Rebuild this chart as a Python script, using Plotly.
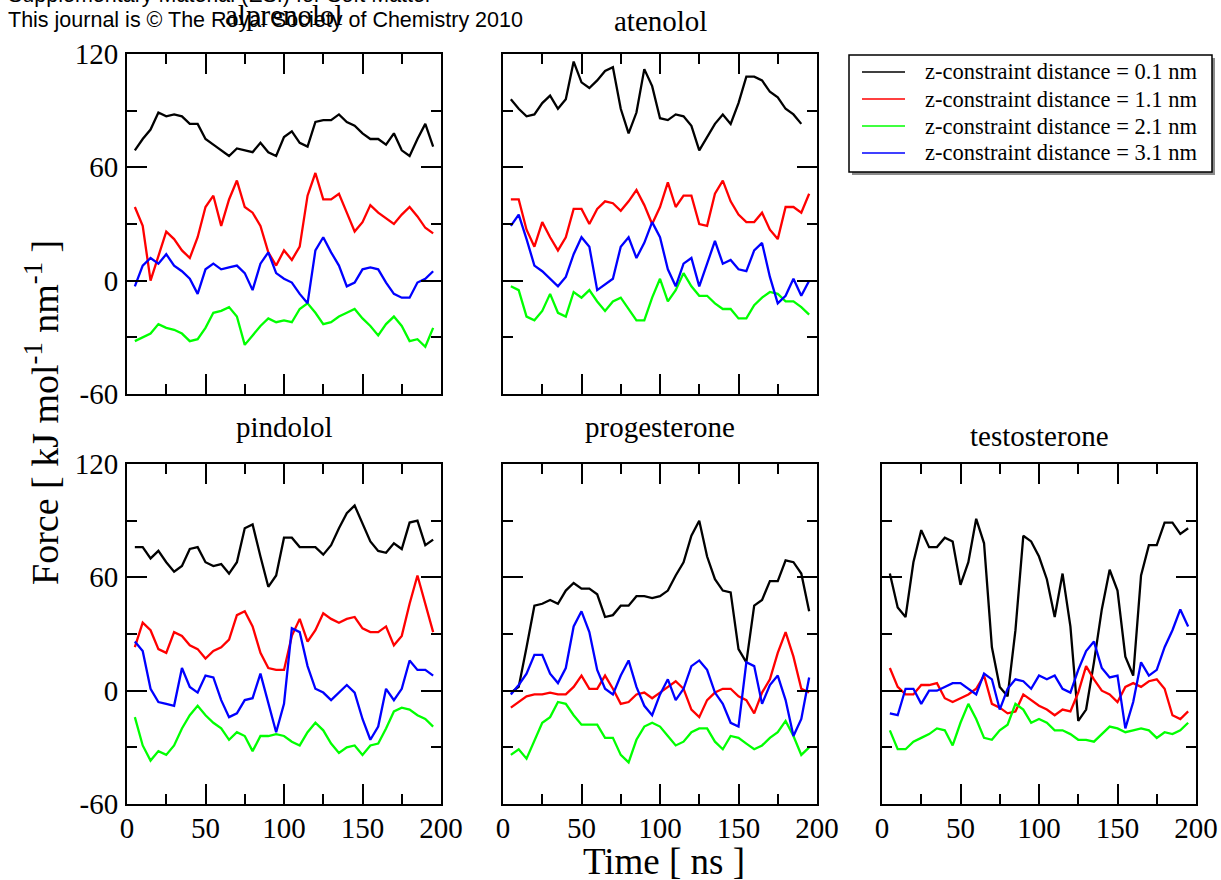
import plotly.graph_objects as go

# ---------------- data ----------------
time_ns = list(range(5, 200, 5))  # 5 .. 195 ns

series_names = [
    "z-constraint distance = 0.1 nm",
    "z-constraint distance = 1.1 nm",
    "z-constraint distance = 2.1 nm",
    "z-constraint distance = 3.1 nm",
]
series_colors = ["#000000", "#ff0000", "#00ff00", "#0000ff"]

panel_titles = ["alprenolol", "atenolol", "pindolol", "progesterone", "testosterone"]

x_tick_vals = [0, 50, 100, 150, 200]
x_tick_text = ["0", "50", "100", "150", "200"]
x_minor_vals = [25, 75, 125, 175]
y_tick_vals = [-60, 0, 60, 120]
y_tick_text = ["-60", "0", "60", "120"]
y_minor_vals = [-30, 30, 90]

alprenolol_d01 = [69, 75, 80, 89, 87, 88, 87, 83, 83, 75, 72, 69, 66, 70, 69, 68, 73, 68, 66, 76,
                  79, 73, 71, 84, 85, 85, 88, 84, 82, 78, 75, 75, 72, 78, 69, 66, 75, 83, 71]
alprenolol_d11 = [39, 29, 0, 13, 26, 22, 16, 12, 23, 39, 45, 29, 43, 53, 39, 36, 29, 15, 8, 16,
                  11, 18, 45, 57, 43, 43, 46, 36, 26, 31, 40, 36, 33, 30, 35, 39, 34, 28, 25]
alprenolol_d21 = [-32, -30, -28, -23, -25, -26, -28, -32, -31, -25, -17, -16, -14, -19, -34, -29, -24, -20, -22, -21,
                  -22, -15, -12, -17, -23, -22, -19, -17, -15, -20, -24, -29, -23, -19, -24, -32, -31, -35, -25]
alprenolol_d31 = [-3, 8, 12, 9, 14, 8, 5, 1, -7, 6, 9, 6, 7, 8, 4, -5, 9, 15, 4, 1,
                  -1, -7, -12, 16, 23, 15, 8, -3, -1, 6, 7, 6, -1, -7, -9, -9, -1, 1, 5]

atenolol_d01 = [96, 91, 87, 88, 94, 98, 91, 96, 116, 105, 102, 106, 111, 113, 91, 78, 89, 112, 103, 86,
                85, 88, 87, 82, 69, 76, 83, 88, 83, 94, 108, 108, 106, 100, 97, 91, 88, 83, None]
atenolol_d11 = [43, 43, 27, 18, 31, 23, 16, 23, 38, 38, 30, 38, 42, 41, 37, 42, 48, 40, 30, 39,
                52, 39, 45, 45, 30, 29, 46, 53, 42, 35, 31, 31, 36, 27, 22, 39, 39, 36, 46]
atenolol_d21 = [-3, -5, -19, -21, -16, -7, -17, -19, -6, -9, -5, -11, -16, -11, -9, -15, -21, -21, -9, 1,
                -11, -5, 4, -3, -8, -8, -12, -15, -15, -20, -20, -13, -9, -6, -7, -11, -11, -14, -18]
atenolol_d31 = [29, 35, 22, 8, 5, 1, -3, 2, 14, 23, 18, -5, -2, 1, 18, 23, 12, 20, 31, 23,
                6, -3, 9, 12, -3, 9, 21, 9, 11, 6, 5, 16, 20, 2, -12, -8, 1, -8, 0]

pindolol_d01 = [76, 76, 70, 74, 68, 63, 66, 75, 76, 68, 66, 67, 62, 68, 86, 88, 71, 55, 61, 81,
                81, 76, 76, 76, 72, 77, 86, 94, 98, 88, 79, 74, 73, 78, 75, 89, 90, 77, 80]
pindolol_d11 = [23, 36, 32, 22, 20, 31, 29, 24, 22, 17, 21, 23, 27, 40, 42, 34, 20, 12, 11, 11,
                29, 38, 26, 32, 41, 38, 36, 38, 39, 33, 31, 31, 34, 24, 29, 46, 61, 46, 31]
pindolol_d21 = [-14, -29, -37, -32, -34, -29, -20, -13, -8, -13, -17, -20, -26, -22, -24, -32, -24, -24, -23, -24,
                -27, -29, -22, -17, -21, -28, -33, -30, -29, -34, -29, -28, -20, -11, -9, -10, -13, -15, -19]
pindolol_d31 = [26, 21, 1, -6, -7, -8, 12, 2, -1, 8, 7, -5, -14, -12, -5, -4, 9, -7, -22, -7,
                33, 31, 13, 1, -1, -5, -1, 3, -1, -15, -26, -19, 1, -5, 1, 16, 11, 11, 8]

progesterone_d01 = [-1, 2, 23, 45, 46, 48, 46, 53, 57, 54, 54, 51, 39, 40, 45, 45, 50, 50, 49, 50,
                    53, 61, 68, 82, 90, 71, 59, 53, 52, 22, 15, 45, 48, 58, 58, 69, 68, 62, 42]
progesterone_d11 = [-9, -6, -3, -2, -2, -1, -2, -2, 2, 8, 1, 1, 8, 1, -7, -6, -2, -1, -4, -1,
                    2, 5, 1, -10, -14, -5, -1, 1, 1, -3, -5, -12, -1, 6, 20, 31, 18, 1, -1]
progesterone_d21 = [-34, -31, -36, -26, -17, -14, -6, -7, -13, -18, -18, -18, -25, -25, -34, -38, -26, -19, -17, -19,
                    -24, -29, -27, -22, -20, -20, -27, -31, -24, -25, -28, -31, -29, -25, -22, -16, -24, -34, -30]
progesterone_d31 = [-2, 3, 9, 19, 19, 9, 4, 12, 34, 42, 31, 11, 1, -2, 8, 16, 2, -8, -13, -2,
                    6, -5, 1, 13, 16, 11, -1, -7, -17, -19, 15, 13, -7, 3, 8, -5, -24, -15, 7]

testosterone_d01 = [62, 44, 39, 68, 85, 76, 76, 81, 79, 56, 68, 91, 78, 23, 2, -3, 32, 82, 79, 71,
                    59, 39, 62, 34, -16, -10, 15, 43, 64, 53, 18, 8, 61, 77, 77, 89, 89, 83, 86]
testosterone_d11 = [12, 2, -2, -2, 3, 3, 4, -4, -6, -4, -2, 1, 8, -7, -9, -12, -11, -2, -5, -8,
                    -10, -13, -10, -11, -1, 13, 6, 0, -2, -6, 2, 4, 2, 5, 6, 1, -13, -15, -11]
testosterone_d21 = [-21, -31, -31, -27, -25, -23, -20, -21, -29, -17, -7, -15, -25, -26, -21, -18, -7, -10, -17, -15,
                    -17, -21, -21, -23, -26, -26, -27, -23, -19, -20, -22, -21, -20, -21, -25, -22, -23, -21, -17]
testosterone_d31 = [-12, -13, 1, 1, -7, 0, 0, 2, 4, 4, 1, -2, 9, 6, -10, 1, 6, 5, 1, 8,
                    6, 8, 1, -1, 11, 21, 26, 12, 7, 8, -20, -6, 15, 8, 11, 23, 32, 43, 34]

panel_data = [
    [alprenolol_d01, alprenolol_d11, alprenolol_d21, alprenolol_d31],
    [atenolol_d01, atenolol_d11, atenolol_d21, atenolol_d31],
    [pindolol_d01, pindolol_d11, pindolol_d21, pindolol_d31],
    [progesterone_d01, progesterone_d11, progesterone_d21, progesterone_d31],
    [testosterone_d01, testosterone_d11, testosterone_d21, testosterone_d31],
]

# ---------------- layout geometry (pixels) ----------------
W, H = 1221, 880


def fx(px):
    return px / W


def fy(py):
    return 1 - py / H


col_px = [(127, 441), (503, 817), (882, 1196)]
row_px = [(54, 394), (464, 804)]
panel_pos = [(0, 0), (0, 1), (1, 0), (1, 1), (1, 2)]
title_y_px = [15, 21, 427, 427, 436]

FONT = "Liberation Serif, Times New Roman, serif"
SANS = "Liberation Sans, Arial, sans-serif"

fig = go.Figure()

for p, series in enumerate(panel_data):
    ax = "" if p == 0 else str(p + 1)
    for s, vals in enumerate(series):
        fig.add_trace(go.Scatter(
            x=time_ns, y=vals, mode="lines",
            line=dict(color=series_colors[s], width=2.3),
            name=series_names[s],
            showlegend=False,
            xaxis="x" + ax, yaxis="y" + ax,
        ))

layout = dict(
    width=W, height=H,
    margin=dict(l=0, r=0, t=0, b=0, pad=0, autoexpand=False),
    paper_bgcolor="white", plot_bgcolor="white",
    font=dict(family=FONT, color="black", size=22),
    showlegend=False,
    annotations=[],
    shapes=[],
)

for p in range(5):
    r, c = panel_pos[p]
    ax = "" if p == 0 else str(p + 1)
    common = dict(
        showline=True, linecolor="black", linewidth=2, mirror="allticks",
        ticks="inside", ticklen=20, tickwidth=1.5, tickcolor="black",
        showgrid=False, zeroline=False, fixedrange=True, automargin=False,
        tickfont=dict(family=FONT, size=29, color="black"),
        tickmode="array",
    )
    layout["xaxis" + ax] = dict(
        common,
        domain=[fx(col_px[c][0]), fx(col_px[c][1])],
        range=[0, 200],
        tickvals=x_tick_vals, ticktext=x_tick_text,
        minor=dict(tickmode="array", tickvals=x_minor_vals, ticks="inside", ticklen=10,
                   tickwidth=1.5, tickcolor="black", showgrid=False),
        showticklabels=(r == 1),
        ticklabelstandoff=-3,
        anchor="y" + ax,
    )
    layout["yaxis" + ax] = dict(
        common,
        domain=[fy(row_px[r][1]), fy(row_px[r][0])],
        range=[-60, 120],
        tickvals=y_tick_vals, ticktext=y_tick_text,
        minor=dict(tickmode="array", tickvals=y_minor_vals, ticks="inside", ticklen=10,
                   tickwidth=1.5, tickcolor="black", showgrid=False),
        showticklabels=(c == 0),
        ticklabelstandoff=1,
        anchor="x" + ax,
    )
    layout["annotations"].append(dict(
        text=panel_titles[p], xref="paper", yref="paper",
        x=fx((col_px[c][0] + col_px[c][1]) / 2), y=fy(title_y_px[p]),
        xanchor="center", yanchor="middle", showarrow=False,
        font=dict(family=FONT, size=29, color="black"),
    ))

# axis titles
layout["annotations"].append(dict(
    text="Time [ ns ]", xref="paper", yref="paper", x=fx(664), y=fy(861),
    xanchor="center", yanchor="middle", showarrow=False,
    font=dict(family=FONT, size=37, color="black"),
))
layout["annotations"].append(dict(
    text="Force [ kJ mol<sup>-1</sup> nm<sup>-1</sup> ]", xref="paper", yref="paper",
    x=fx(42), y=fy(413), textangle=-90,
    xanchor="center", yanchor="middle", showarrow=False,
    font=dict(family=FONT, size=38, color="black"),
))

# journal header (first line is cut by the top edge, as in the source page)
layout["annotations"].append(dict(
    text="Supplementary Material (ESI) for Soft Matter", xref="paper", yref="paper",
    x=fx(6), y=fy(9), xanchor="left", yanchor="bottom", showarrow=False,
    font=dict(family=SANS, size=21.5, color="black"),
))
layout["annotations"].append(dict(
    text="This journal is © The Royal Society of Chemistry 2010", xref="paper", yref="paper",
    x=fx(6), y=fy(20), xanchor="left", yanchor="middle", showarrow=False,
    font=dict(family=SANS, size=21.5, color="black"),
))

# legend box (drawn with shapes + text)
leg_x0, leg_y0, leg_x1, leg_y1 = 849, 55, 1212, 172
layout["shapes"].append(dict(
    type="rect", xref="paper", yref="paper",
    x0=fx(leg_x0 + 3), x1=fx(leg_x1 + 3), y0=fy(leg_y1 + 3), y1=fy(leg_y0 + 3),
    line=dict(width=0), fillcolor="#8c8c8c", layer="above",
))
layout["shapes"].append(dict(
    type="rect", xref="paper", yref="paper",
    x0=fx(leg_x0), x1=fx(leg_x1), y0=fy(leg_y1), y1=fy(leg_y0),
    line=dict(color="black", width=1.5), fillcolor="white", layer="above",
))
leg_rows_px = [72, 99, 126, 153]
for s in range(4):
    yy = fy(leg_rows_px[s])
    layout["shapes"].append(dict(
        type="line", xref="paper", yref="paper",
        x0=fx(862), x1=fx(905), y0=yy, y1=yy,
        line=dict(color=series_colors[s], width=1.5), layer="above",
    ))
    layout["annotations"].append(dict(
        text=series_names[s], xref="paper", yref="paper",
        x=fx(923), y=yy, xanchor="left", yanchor="middle", showarrow=False,
        font=dict(family=FONT, size=22.5, color="black"),
    ))

fig.update_layout(layout)
fig.write_html("out.html")
